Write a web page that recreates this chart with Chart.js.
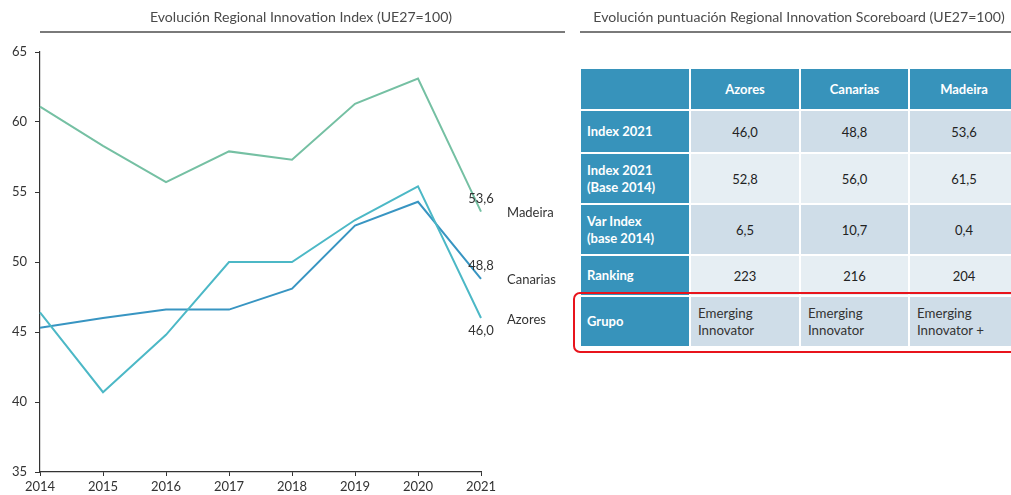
<!DOCTYPE html>
<html>
<head>
<meta charset="utf-8">
<script src="https://cdn.jsdelivr.net/npm/chart.js@4.4.1/dist/chart.umd.min.js"></script>
<style>
  html, body { margin:0; padding:0; background:#fff; width:1011px; height:495px; overflow:hidden; font-family: Lato, "Open Sans", sans-serif; }
  #wrap { position:relative; width:1011px; height:495px; overflow:hidden; }
  #chart { position:absolute; left:0; top:0; }
  .title { position:absolute; top:8px; font-size:14.1px; color:#4a4a4a; text-align:center; white-space:nowrap; }
  .rule { position:absolute; top:31px; height:2px; background:#7a7a7a; }
  #tblwrap { position:absolute; left:579px; top:67px; width:480px; }
  #tbl { border-collapse:separate; border-spacing:2px; font-size:13px; table-layout:fixed; width:441px; }
  #tbl td { padding:0; box-sizing:border-box; }
  #tbl td.hd { background:#3793bb; color:#fff; font-weight:bold; text-align:center; }
  #tbl td.rh { background:#3793bb; color:#fff; font-weight:bold; text-align:left; padding-left:6px; line-height:17px; }
  #tbl td.c { color:#222; text-align:center; }
  #tbl td.g { color:#333; text-align:left; padding-left:7px; line-height:17px; font-size:13.3px; }
  .dark { background:#cfdde8; }
  .light { background:#e6eef3; }
  #redbox { position:absolute; left:573px; top:292px; width:470px; height:61px; border:2px solid #e8141c; border-radius:7px; box-sizing:border-box; }
</style>
</head>
<body>
<div id="wrap">
<canvas id="chart" width="570" height="495"></canvas>
<div class="title" style="left:100px; width:402px;">Evolución Regional Innovation Index (UE27=100)</div>
<div class="rule" style="left:40px; width:525px;"></div>
<div class="title" style="left:579px; width:440px;">Evolución puntuación Regional Innovation Scoreboard (UE27=100)</div>
<div class="rule" style="left:580px; width:431px;"></div>
<div id="tblwrap"><table id="tbl"></table></div>
<div id="redbox"></div>
</div>
<script>
// ---- data ----
const years = ['2014','2015','2016','2017','2018','2019','2020','2021'];
const madeira  = [61.1, 58.3, 55.7, 57.9, 57.3, 61.3, 63.1, 53.6];
const canarias = [45.3, 46.0, 46.6, 46.6, 48.1, 52.6, 54.3, 48.8];
const azores   = [46.4, 40.7, 44.8, 50.0, 50.0, 53.0, 55.4, 46.0];
const seriesNames = ['Madeira', 'Canarias', 'Azores'];
const yTicks = [35, 40, 45, 50, 55, 60, 65];

// table data
const tableCols = ['Azores', 'Canarias', 'Madeira'];
const tableRowLabels = ['Index 2021', 'Index 2021<br>(Base 2014)', 'Var Index<br>(base 2014)', 'Ranking', 'Grupo'];
const idx2021    = ['46,0', '48,8', '53,6'];
const idxBase    = ['52,8', '56,0', '61,5'];
const varIndex   = ['6,5', '10,7', '0,4'];
const ranking    = ['223', '216', '204'];
const grupo      = ['Emerging<br>Innovator', 'Emerging<br>Innovator', 'Emerging<br>Innovator +'];

// ---- table ----
(function(){
  const colW = [108, 108, 107, 108];
  const rowH = [40, 41, 49, 49, 39, 49];
  const rows = [idx2021, idxBase, varIndex, ranking, grupo];
  const t = document.getElementById('tbl');
  let html = '<colgroup>' + colW.map(w => '<col style="width:'+w+'px">').join('') + '</colgroup>';
  html += '<tr style="height:'+rowH[0]+'px"><td class="hd"></td>';
  tableCols.forEach(c => { html += '<td class="hd">'+c+'</td>'; });
  html += '</tr>';
  rows.forEach((r,ri)=>{
    const shade = ri % 2 === 0 ? 'dark' : 'light';
    const isG = ri === 4;
    html += '<tr style="height:'+rowH[ri+1]+'px"><td class="rh">'+tableRowLabels[ri]+'</td>';
    r.forEach(v=>{ html += '<td class="'+(isG?'g':'c')+' '+shade+'">'+v+'</td>'; });
    html += '</tr>';
  });
  t.innerHTML = html;
})();

// ---- chart ----
const fmt = v => v.toFixed(1).replace('.', ',');

const endLabels = {
  id: 'endLabels',
  afterDatasetsDraw(chart) {
    const ctx = chart.ctx;
    ctx.save();
    ctx.font = '13px Lato, "Open Sans", sans-serif';
    ctx.fillStyle = '#333';
    chart.data.datasets.forEach((ds, i) => {
      const meta = chart.getDatasetMeta(i);
      const pt = meta.data[meta.data.length - 1];
      const v = ds.data[ds.data.length - 1];
      ctx.textAlign = 'center';
      ctx.textBaseline = 'middle';
      const dy = ds.labelBelow ? 13 : -13;
      ctx.fillText(fmt(v), pt.x, pt.y + dy);
      ctx.textAlign = 'left';
      ctx.fillText(ds.label, chart.chartArea.right + 26, pt.y + (ds.nameDy || 0));
    });
    ctx.restore();
  }
};

new Chart(document.getElementById('chart'), {
  type: 'line',
  data: {
    labels: years,
    datasets: [
      { label: seriesNames[2], data: azores, borderColor: '#4cb8c6', borderWidth: 2, pointRadius: 0, tension: 0, labelBelow: true, nameDy: 2 },
      { label: seriesNames[1], data: canarias, borderColor: '#3895c2', borderWidth: 2, pointRadius: 0, tension: 0, nameDy: 1 },
      { label: seriesNames[0], data: madeira, borderColor: '#75c0a3', borderWidth: 2, pointRadius: 0, tension: 0, nameDy: 1 }
    ]
  },
  options: {
    responsive: false,
    animation: false,
    layout: { padding: { top: 52, right: 89, left: 0, bottom: 0 } },
    plugins: { legend: { display: false }, tooltip: { enabled: false }, title: { display: false } },
    scales: {
      x: {
        type: 'category',
        offset: false,
        grid: { display: true, drawOnChartArea: false, drawTicks: true, tickLength: 4, color: '#333', lineWidth: 1 },
        border: { display: true, color: '#333', width: 1.2 },
        ticks: { color: '#333', font: { family: 'Lato', size: 13 }, padding: 3, maxRotation: 0, autoSkip: false },
        afterFit: s => { s.height = 23; }
      },
      y: {
        min: 35, max: 65,
        afterBuildTicks: s => { s.ticks = yTicks.map(v => ({ value: v })); },
        grid: { display: true, drawOnChartArea: false, drawTicks: true, tickLength: 5, color: '#333', lineWidth: 1 },
        border: { display: true, color: '#333', width: 1.2 },
        ticks: { color: '#333', font: { family: 'Lato', size: 13 }, padding: 8 },
        afterFit: s => { s.width = 40; }
      }
    }
  },
  plugins: [endLabels]
});
</script>
</body>
</html>
